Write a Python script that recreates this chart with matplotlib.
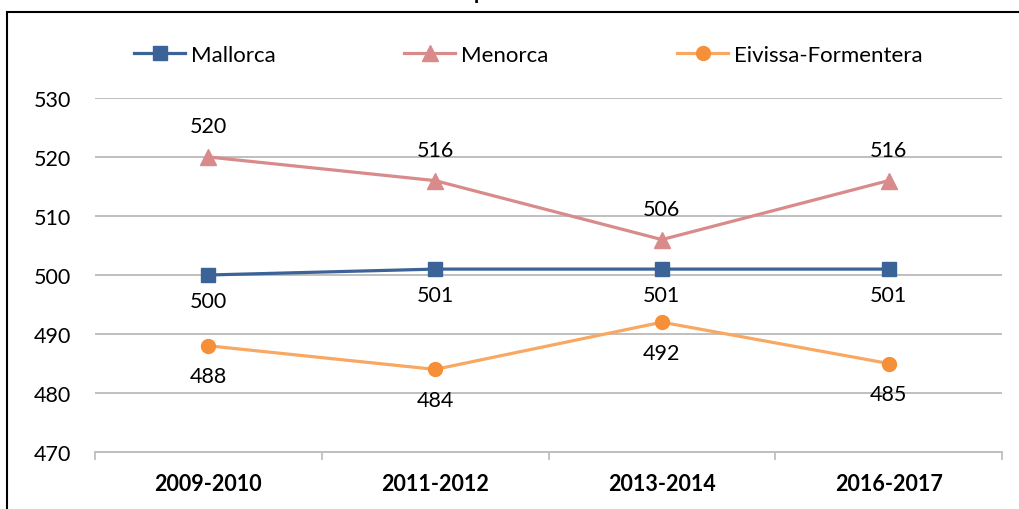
import matplotlib
matplotlib.use("Agg")
import matplotlib.pyplot as plt
from matplotlib.patches import Rectangle
from matplotlib.ticker import FixedLocator

plt.rcParams['font.family'] = ['Lato', 'DejaVu Sans']

categories = ["2009-2010", "2011-2012", "2013-2014", "2016-2017"]
mallorca = [500, 501, 501, 501]
menorca = [520, 516, 506, 516]
eivissa = [488, 484, 492, 485]
series_names = ["Mallorca", "Menorca", "Eivissa-Formentera"]
yticks = [470, 480, 490, 500, 510, 520, 530]

W, H = 1019, 510
fig = plt.figure(figsize=(W / 100, H / 100), dpi=100)
ax = fig.add_axes([95 / W, 57 / H, (1002 - 95) / W, (453 - 99) / H])

x = list(range(len(categories)))
c_mal = "#3B6397"
c_men = "#D98A8A"
c_eiv_line = "#F8A862"
c_eiv_mark = "#F58F38"

l1, = ax.plot(x, mallorca, color=c_mal, lw=2.3, marker="s", ms=10.5, mfc=c_mal, mec=c_mal, zorder=4)
l2, = ax.plot(x, menorca, color=c_men, lw=2.3, marker="^", ms=11.5, mfc=c_men, mec=c_men, zorder=4)
l3, = ax.plot(x, eivissa, color=c_eiv_line, lw=2.3, marker="o", ms=10, mfc=c_eiv_mark, mec=c_eiv_mark, zorder=4)

fs = 15.5
for xi, v in zip(x, menorca):
    ax.annotate(str(v), (xi, v), xytext=(0, 22), textcoords="offset points",
                ha="center", va="center", fontsize=fs, color="#000000")
for xi, v in zip(x, mallorca):
    ax.annotate(str(v), (xi, v), xytext=(0, -19), textcoords="offset points",
                ha="center", va="center", fontsize=fs, color="#000000")
for xi, v in zip(x, eivissa):
    ax.annotate(str(v), (xi, v), xytext=(0, -22), textcoords="offset points",
                ha="center", va="center", fontsize=fs, color="#000000")

ax.set_xlim(-0.5, len(categories) - 0.5)
ax.set_ylim(470, 530)
ax.set_yticks(yticks)
ax.set_yticklabels([str(t) for t in yticks], fontsize=fs)
ax.set_xticks(x)
ax.set_xticklabels(categories, fontsize=fs, fontweight="bold")
ax.xaxis.set_minor_locator(FixedLocator([i - 0.5 for i in range(len(categories) + 1)]))
ax.tick_params(axis="x", which="major", length=0, pad=15)
ax.tick_params(axis="x", which="minor", length=6, width=1.3, color="#BFBFBF")
ax.tick_params(axis="y", length=0, pad=17)

ax.grid(axis="y", color="#BFBFBF", lw=1.4, zorder=0)
ax.set_axisbelow(True)
for s in ["top", "right", "left"]:
    ax.spines[s].set_visible(False)
ax.spines["bottom"].set_color("#BFBFBF")
ax.spines["bottom"].set_linewidth(1.4)

leg = fig.legend([l1, l2, l3], series_names, loc="center left",
                 bbox_to_anchor=(134 / W, 1 - 56 / H), ncol=3, frameon=False,
                 fontsize=16, handlelength=2.3, handletextpad=0.25,
                 columnspacing=5.8, borderpad=0, borderaxespad=0)

# outer chart border (cropped screenshot)
fig.patches.append(Rectangle((7 / W, -0.05), 1.1, 1.05 - 13 / H, transform=fig.transFigure,
                             fill=False, edgecolor="#000000", lw=1.5, clip_on=False))

# partially visible title (only the descender shows)
fig.text(474 / W, 1.0 + 1 / H, "p", ha="left", va="baseline", fontsize=15, fontweight="bold")

fig.savefig("out.png", dpi=100)
